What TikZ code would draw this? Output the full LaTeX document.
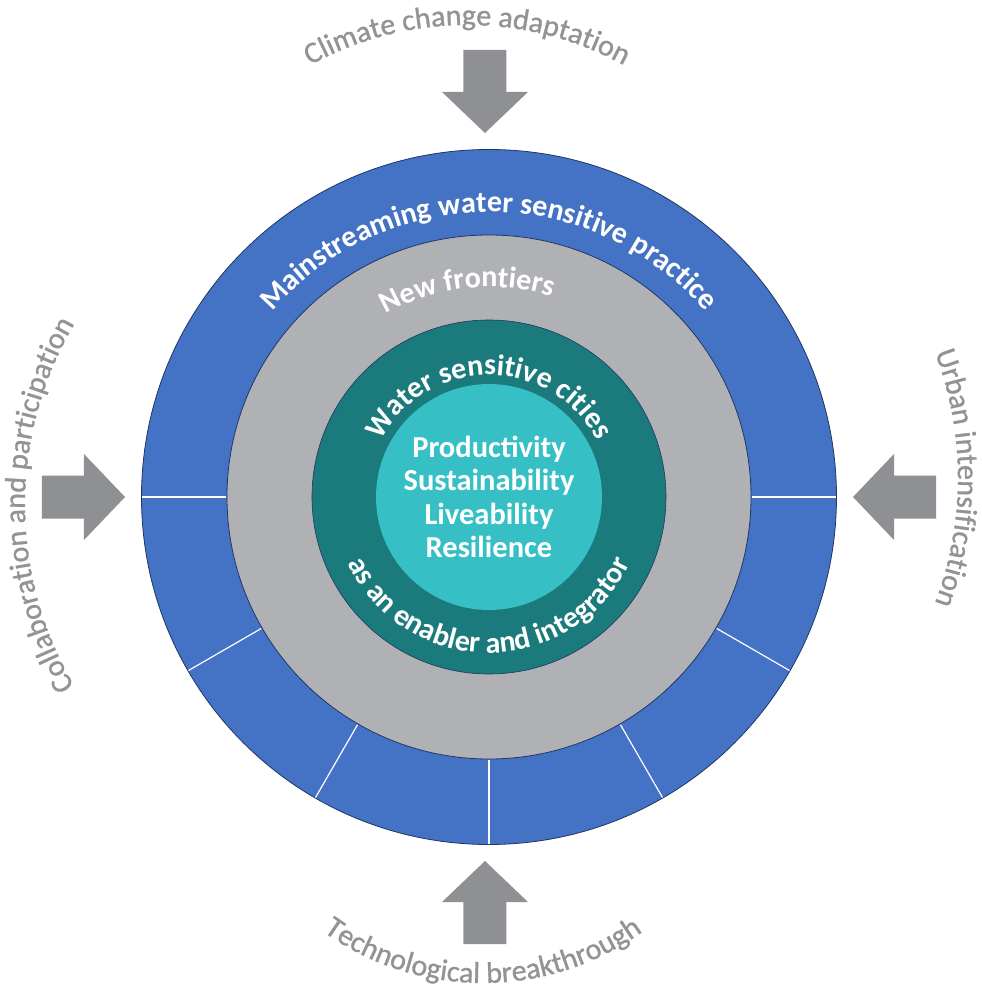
\documentclass[tikz,border=0pt]{standalone}
\usepackage{fontspec}
\setmainfont{Carlito}
\newfontfamily\driverfont[FakeBold=1]{Carlito}
\usepackage{tikz}
\usetikzlibrary{decorations.text}

\definecolor{ringblue}{HTML}{4472C4}
\definecolor{ringedge}{HTML}{1F3763}
\definecolor{ringgray}{HTML}{B0B1B5}
\definecolor{ringteal}{HTML}{1B7A7B}
\definecolor{coreteal}{HTML}{37BFC6}
\definecolor{arrowgray}{HTML}{8F9094}
\definecolor{labelgray}{HTML}{939393}

\tikzset{
  ringtext/.style={decorate, decoration={text along path, text align=center,
      text color=white, text={|\bfseries\fontsize{30}{34}\selectfont|#1}}},
  drivertext/.style={decorate, decoration={text along path, text align=center,
      text color=labelgray, text={|\driverfont\fontsize{30}{34}\selectfont|#1}}},
}

\begin{document}
\begin{tikzpicture}[x=1pt,y=1pt]
    \useasboundingbox (-489,-492) rectangle (493,497);
    \coordinate (c) at (0,0);
    % rings
    \filldraw[fill=ringblue, draw=ringedge, line width=0.8pt] (c) circle (347.5);
    \filldraw[fill=ringgray, draw=ringedge, line width=0.8pt] (c) circle (262);
    \foreach \a in {0,-30,-60,-90,-120,-150,180}
        \draw[white, line width=1.2pt] (\a:263) -- (\a:347);
    \filldraw[fill=ringteal, draw=ringedge, line width=0.6pt] (c) circle (177);
    \fill[coreteal] (c) circle (113);
    \node[align=center, text=white, font=\bfseries\fontsize{30.5}{33.3}\selectfont] (values) at (c)
        {Productivity\\Sustainability\\Liveability\\Resilience};
    % ring labels
    \path[ringtext=Mainstreaming water sensitive practice] (150:285) arc[start angle=150, end angle=30, radius=285];
    \path[ringtext=New frontiers] (130:210) arc[start angle=130, end angle=62, radius=210];
    \path[ringtext=Water sensitive cities] (190:122) arc[start angle=190, end angle=-10, radius=122];
    \path[ringtext=as an enabler and integrator] (190:156) arc[start angle=190, end angle=350, radius=156];
    % drivers
    \foreach \a/\dx in {0/0, 90/-4, 180/0, 270/-4}
        \fill[arrowgray, shift={(\dx,0)}, rotate=\a] (364,0) -- (405,43) -- (405,21.5) -- (447,21.5)
            -- (447,-21.5) -- (405,-21.5) -- (405,-43) -- cycle;
    \path[drivertext=Climate change adaptation] ([shift={(135:325)}]-22,147) arc[start angle=135, end angle=45, radius=325];
    \path[drivertext=Technological breakthrough] ([shift={(230:274)}]-6,-212) arc[start angle=230, end angle=310, radius=274];
    \path[drivertext=Collaboration and participation] ([shift={(215:356)}]-108,-8) arc[start angle=215, end angle=145, radius=356];
    \path[drivertext=Urban intensification] ([shift={(30:351)}]118,19) arc[start angle=30, end angle=-30, radius=351];
\end{tikzpicture}
\end{document}
